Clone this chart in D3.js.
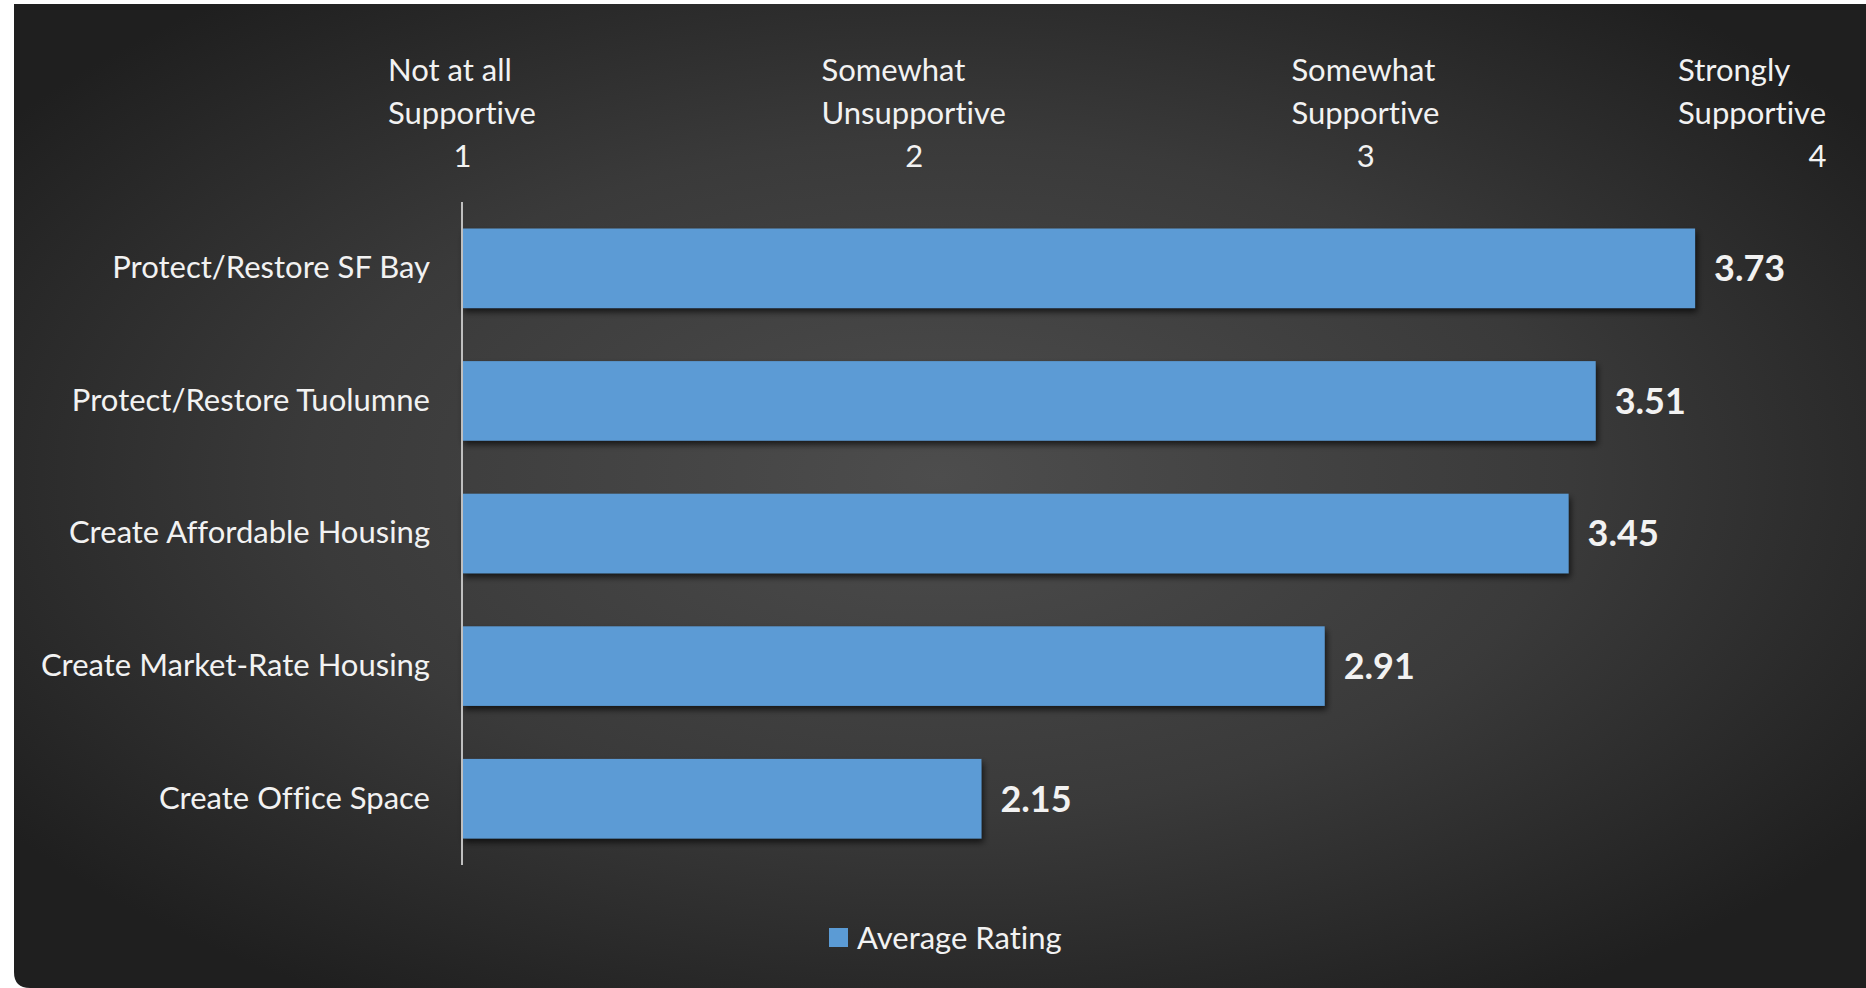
<!DOCTYPE html>
<html>
<head>
<meta charset="utf-8">
<script src="https://cdn.jsdelivr.net/npm/d3@7"></script>
<style>
  html, body { margin: 0; padding: 0; background: #ffffff; }
  svg { display: block; }
  text { font-family: Lato, "Open Sans", sans-serif; font-variant-ligatures: none; font-feature-settings: "liga" 0, "dlig" 0; }
</style>
</head>
<body>
<svg id="chart" width="1866" height="988"></svg>
<script>
// Survey results: average support rating per priority (1–4 scale)
const categories = [
  "Protect/Restore SF Bay",
  "Protect/Restore Tuolumne",
  "Create Affordable Housing",
  "Create Market-Rate Housing",
  "Create Office Space"
];
const averageRating = [3.73, 3.51, 3.45, 2.91, 2.15];
const tickValues = [1, 2, 3, 4];
const tickLabels = [
  ["Not at all", "Supportive"],
  ["Somewhat", "Unsupportive"],
  ["Somewhat", "Supportive"],
  ["Strongly", "Supportive"]
];
const seriesName = "Average Rating";

const W = 1866, H = 988;
const svg = d3.select("#chart");
const defs = svg.append("defs");

// Dark radial backdrop
const grad = defs.append("radialGradient")
  .attr("id", "bg").attr("cx", "0.5").attr("cy", "0.48").attr("r", "0.62");
grad.append("stop").attr("offset", "0%").attr("stop-color", "#4d4d4d");
grad.append("stop").attr("offset", "55%").attr("stop-color", "#3a3a3a");
grad.append("stop").attr("offset", "100%").attr("stop-color", "#1f1f1f");

const shadow = defs.append("filter").attr("id", "shadow")
  .attr("x", "-5%").attr("y", "-20%").attr("width", "115%").attr("height", "150%");
shadow.append("feDropShadow")
  .attr("dx", 2).attr("dy", 4).attr("stdDeviation", 3)
  .attr("flood-color", "#000").attr("flood-opacity", 0.65);

svg.append("path")
  .attr("d", `M14,4 H${W} V${H} H30 Q14,${H} 14,${H - 16} Z`)
  .attr("fill", "url(#bg)");

const x = d3.scaleLinear().domain([1, 4]).range([462, 1817]);
const y = d3.scaleBand().domain(categories).range([202, 865]).paddingInner(0.4).paddingOuter(0.2);

const textColor = "#f2f2f2";
const labelSize = 31;

// Bars
svg.append("g").selectAll("rect")
  .data(categories)
  .join("rect")
  .attr("x", x(1))
  .attr("y", d => y(d))
  .attr("width", (d, i) => x(averageRating[i]) - x(1))
  .attr("height", y.bandwidth())
  .attr("fill", "#5b9bd5")
  .attr("filter", "url(#shadow)");

// Value labels
svg.append("g").selectAll("text")
  .data(categories)
  .join("text")
  .attr("x", (d, i) => x(averageRating[i]) + 19)
  .attr("y", d => y(d) + y.bandwidth() / 2)
  .attr("dy", "0.36em")
  .attr("fill", textColor)
  .attr("font-size", 36)
  .attr("font-weight", "bold")
  .text((d, i) => averageRating[i].toFixed(2));

// Vertical category axis
const yAxis = svg.append("g")
  .attr("transform", `translate(${x(1)},0)`)
  .call(d3.axisLeft(y).tickSize(0).tickPadding(32));
yAxis.select(".domain").attr("stroke", "#bfbfbf").attr("stroke-width", 2)
  .attr("d", `M0,202V865`);
yAxis.selectAll("text")
  .attr("fill", textColor)
  .attr("font-size", labelSize)
  .attr("font-family", "Lato, 'Open Sans', sans-serif");

// Top value axis: numbers and two-line descriptive labels
const xAxis = svg.append("g").attr("transform", "translate(0,156)")
  .call(d3.axisTop(x).tickValues(tickValues).tickFormat(d3.format("d")).tickSize(0).tickPadding(0));
xAxis.select(".domain").remove();
xAxis.selectAll("text")
  .attr("fill", textColor)
  .attr("font-size", labelSize)
  .attr("dy", "0.35em")
  .attr("font-family", "Lato, 'Open Sans', sans-serif");

const descG = svg.append("g");
tickValues.forEach((v, i) => {
  const t = descG.append("text")
    .attr("fill", textColor)
    .attr("font-size", labelSize)
    .attr("text-anchor", "start");
  tickLabels[i].forEach((line, j) => {
    t.append("tspan").attr("x", 0).attr("y", 70 + j * 43).attr("dy", "0.35em").text(line);
  });
  const bw = t.node().getBBox().width;
  let left = x(v) - bw / 2;
  left = Math.min(left, 1826 - bw);
  t.attr("transform", `translate(${left},0)`);
});

// Legend
const legend = svg.append("g").attr("transform", "translate(829,928)");
legend.append("rect").attr("width", 19).attr("height", 19).attr("fill", "#5b9bd5");
legend.append("text")
  .attr("x", 28).attr("y", 10).attr("dy", "0.35em")
  .attr("fill", textColor).attr("font-size", labelSize)
  .text(seriesName);
</script>
</body>
</html>
